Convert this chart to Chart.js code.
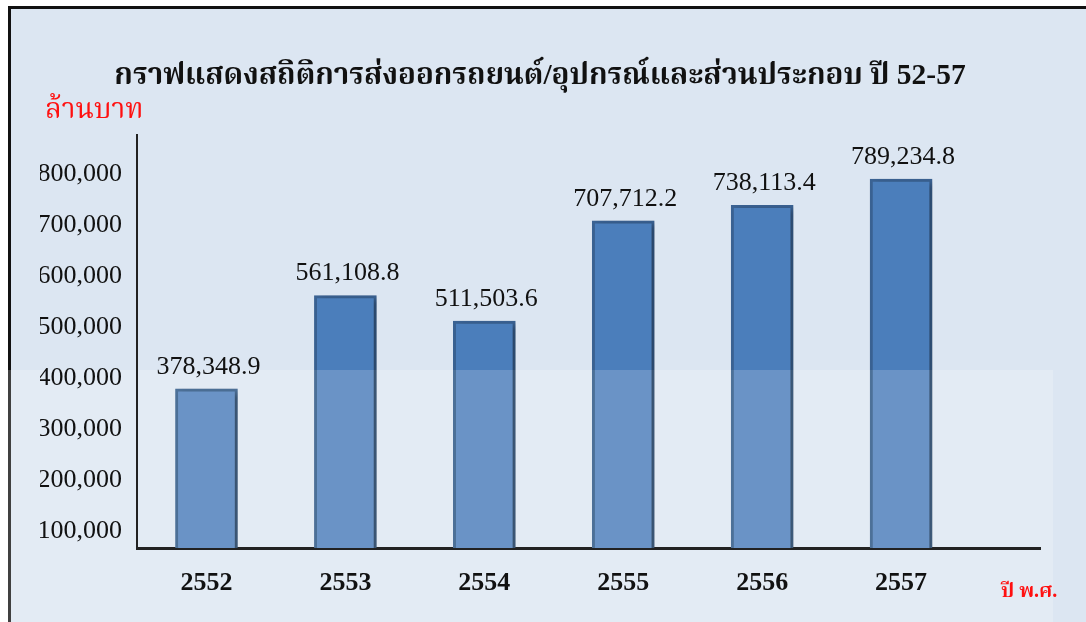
<!DOCTYPE html>
<html>
<head>
<meta charset="utf-8">
<script src="https://cdn.jsdelivr.net/npm/chart.js@4.4.1/dist/chart.umd.min.js"></script>
<style>
  html, body { margin: 0; padding: 0; background: #ffffff; }
  body { width: 1086px; height: 622px; position: relative; overflow: hidden; }
  #frame {
    position: absolute; left: 8px; top: 6px; width: 1100px; height: 700px;
    border: 3px solid #111; background: #dce6f2;
  }
  #wrap { position: absolute; left: 0; top: 0; width: 1086px; height: 622px; }
</style>
</head>
<body>
<div id="frame"></div>
<div id="wrap"><canvas id="exportChart" width="1086" height="622"></canvas></div>
<script>
// values in million baht, Thai Buddhist-era years
const years = ['2552', '2553', '2554', '2555', '2556', '2557'];
const exportValues = [378348.9, 561108.8, 511503.6, 707712.2, 738113.4, 789234.8];
const yTickValues = [100000, 200000, 300000, 400000, 500000, 600000, 700000, 800000];

const serif = "'Liberation Serif', 'Times New Roman', 'Noto Serif Thai', 'Noto Sans Thai', serif";
const bandTop = 370;

// lighter band behind the lower part of the picture
const bandPlugin = {
  id: 'band',
  beforeDraw(chart) {
    const ctx = chart.ctx;
    ctx.save();
    ctx.fillStyle = 'rgba(255,255,255,0.2)';
    ctx.fillRect(0, bandTop, 1053, 622 - bandTop);
    ctx.restore();
  }
};

// bars are lighter inside the band
function splitColor(ctx, upper, lower) {
  const g = ctx.chart.ctx.createLinearGradient(0, 0, 0, 622);
  g.addColorStop(0, upper);
  g.addColorStop(bandTop / 622, upper);
  g.addColorStop(bandTop / 622 + 0.0001, lower);
  g.addColorStop(1, lower);
  return g;
}

// soft shadow to the right of the bars
const shadowPlugin = {
  id: 'barShadow',
  beforeDatasetsDraw(chart) {
    const ctx = chart.ctx;
    ctx.save();
    ctx.shadowColor = 'rgba(0,0,0,0.3)';
    ctx.shadowBlur = 6;
    ctx.shadowOffsetX = 4;
    ctx.shadowOffsetY = 2;
  },
  afterDatasetsDraw(chart) {
    chart.ctx.restore();
  }
};

// value labels above bars + axis unit captions
const labelPlugin = {
  id: 'labels',
  afterDatasetsDraw(chart) {
    const ctx = chart.ctx;
    const meta = chart.getDatasetMeta(0);
    ctx.save();
    ctx.font = '26px ' + serif;
    ctx.fillStyle = '#111';
    ctx.textAlign = 'center';
    ctx.textBaseline = 'bottom';
    meta.data.forEach((bar, i) => {
      const txt = exportValues[i].toLocaleString('en-US', { minimumFractionDigits: 1, maximumFractionDigits: 1 });
      ctx.fillText(txt, bar.x + 2, bar.y - 9);
    });

    ctx.fillStyle = '#ff1010';
    ctx.textAlign = 'left';
    ctx.textBaseline = 'middle';
    ctx.font = '28px ' + serif;
    ctx.fillText('ล้านบาท', 45, 111);
    ctx.font = 'bold 20px ' + serif;
    ctx.fillText('ปี พ.ศ.', 1001, 592);
    ctx.restore();
  }
};

new Chart(document.getElementById('exportChart'), {
  type: 'bar',
  data: {
    datasets: [{
      data: exportValues.map((v, i) => ({ x: i, y: v })),
      backgroundColor: (c) => splitColor(c, '#4b7ebb', '#6a93c6'),
      borderColor: (c) => splitColor(c, '#3a6293', '#4d7199'),
      borderWidth: 3,
      borderSkipped: false,
      barThickness: 62
    }]
  },
  options: {
    responsive: false,
    animation: false,
    layout: { padding: { left: 40, right: 46, top: 0, bottom: 0 } },
    plugins: {
      legend: { display: false },
      tooltip: { enabled: false },
      title: {
        display: true,
        text: 'กราฟแสดงสถิติการส่งออกรถยนต์/อุปกรณ์และส่วนประกอบ ปี 52-57',
        color: '#111',
        font: { family: serif, size: 29.5, weight: 'bold' },
        padding: { top: 59, bottom: 41 }
      }
    },
    scales: {
      x: {
        type: 'linear',
        offset: false,
        min: -0.5,
        max: 6,
        grid: { display: false, drawTicks: false },
        border: { display: true, color: '#222', width: 3 },
        afterFit(scale) { scale.height = 74; },
        afterBuildTicks(scale) { scale.ticks = years.map((y, i) => ({ value: i })); },
        ticks: {
          autoSkip: false,
          padding: 20,
          color: '#111',
          font: { family: serif, size: 26, weight: 'bold' },
          callback: (v) => years[v]
        }
      },
      y: {
        min: 66760,
        max: 875000,
        grid: { display: false, drawTicks: false },
        border: { display: true, color: '#222', width: 2 },
        afterFit(scale) { scale.width = 97; },
        afterBuildTicks(scale) { scale.ticks = yTickValues.map(v => ({ value: v })); },
        ticks: {
          autoSkip: false,
          padding: 15,
          color: '#111',
          font: { family: serif, size: 26 },
          callback: (v) => v.toLocaleString('en-US')
        }
      }
    }
  },
  plugins: [bandPlugin, shadowPlugin, labelPlugin]
});
</script>
</body>
</html>
